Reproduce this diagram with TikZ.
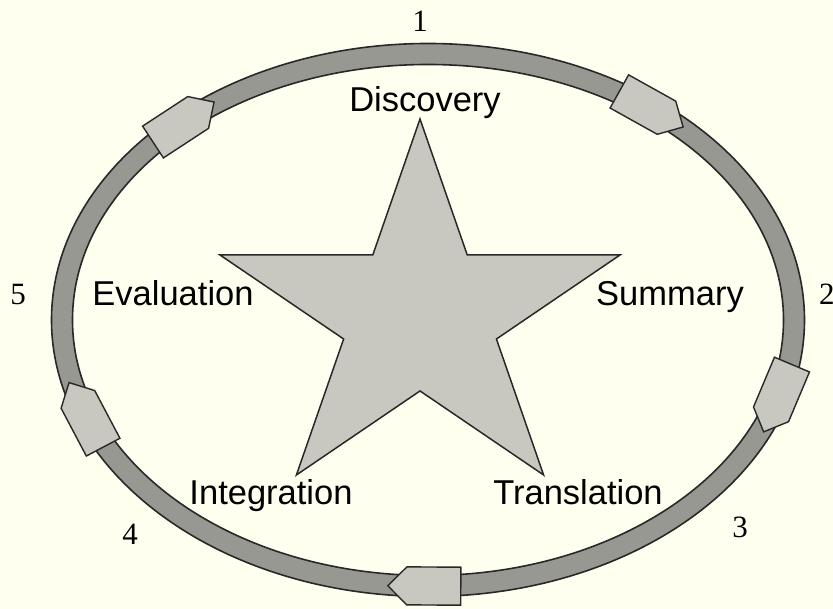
\documentclass[tikz,border=0pt]{standalone}
\usepackage{fontspec}
\setmainfont{Liberation Sans}
\newfontfamily\numfont{Liberation Serif}
\definecolor{bg}{RGB}{255,255,240}
\definecolor{ringgray}{RGB}{152,152,146}
\definecolor{lightfill}{RGB}{200,200,192}
\definecolor{edge}{RGB}{40,40,40}
\begin{document}
\begin{tikzpicture}[x=1pt,y=1pt,
  lbl/.style={font=\fontsize{34.5}{40}\selectfont, anchor=base, inner sep=0pt},
  num/.style={font=\numfont\fontsize{31}{36}\selectfont, anchor=base, inner sep=0pt},
  ringedge/.style={draw=edge, line width=1.6pt},
  arrowshape/.style={fill=lightfill, draw=edge, line width=1.4pt, line join=miter},
  starshape/.style={fill=lightfill, draw=edge, line width=1.5pt, line join=miter}]
\fill[bg] (0,0) rectangle (833,609);
\useasboundingbox (0,0) rectangle (833,609);
\coordinate (c) at (428,289);
% ring
\fill[ringgray, even odd rule] (c) ellipse [x radius=376.5, y radius=276.5]
                               (c) ellipse [x radius=355.5, y radius=255.5];
\draw[ringedge] (c) ellipse [x radius=376.5, y radius=276.5];
\draw[ringedge] (c) ellipse [x radius=355.5, y radius=255.5];
% arrow heads on the ring (clockwise)
\foreach \t in {132, 52.5, -17, -90.5, -159} {
  \pgfmathsetmacro\ang{atan2(-266*cos(\t),366*sin(\t))}
  \pgfmathsetmacro\px{428+366*cos(\t)}
  \pgfmathsetmacro\py{289+266*sin(\t)}
  \begin{scope}[shift={(\px,\py)}, rotate=\ang]
    \draw[arrowshape] (-36,-19) -- (18,-19) -- (37,0) -- (18,19) -- (-36,19) -- cycle;
  \end{scope}
}
% star
\coordinate (sT) at (420,490);
\coordinate (sL) at (220,354);
\coordinate (sR) at (620,354);
\coordinate (sBL) at (296.4,134);
\coordinate (sBR) at (543.6,134);
\coordinate (iUL) at (intersection of sT--sBL and sL--sR);
\coordinate (iUR) at (intersection of sT--sBR and sL--sR);
\coordinate (iLL) at (intersection of sL--sBR and sT--sBL);
\coordinate (iLR) at (intersection of sR--sBL and sT--sBR);
\coordinate (iB) at (intersection of sL--sBR and sR--sBL);
\draw[starshape] (sT) -- (iUR) -- (sR) -- (iLR) -- (sBR) -- (iB) -- (sBL) -- (iLL) -- (sL) -- (iUL) -- cycle;
% labels
\node[lbl] (disc) at (425,497) {Discovery};
\node[lbl] (summ) at (670,303) {Summary};
\node[lbl] (eval) at (173,303) {Evaluation};
\node[lbl] (integ) at (271,104) {Integration};
\node[lbl] (trans) at (578,104) {Translation};
% numbers
\node[num] (n1) at (420,577) {1};
\node[num, anchor=base west] (n2) at (819,304) {2};
\node[num] (n3) at (740,71) {3};
\node[num] (n4) at (130,64) {4};
\node[num] (n5) at (18,304) {5};
\end{tikzpicture}
\end{document}
